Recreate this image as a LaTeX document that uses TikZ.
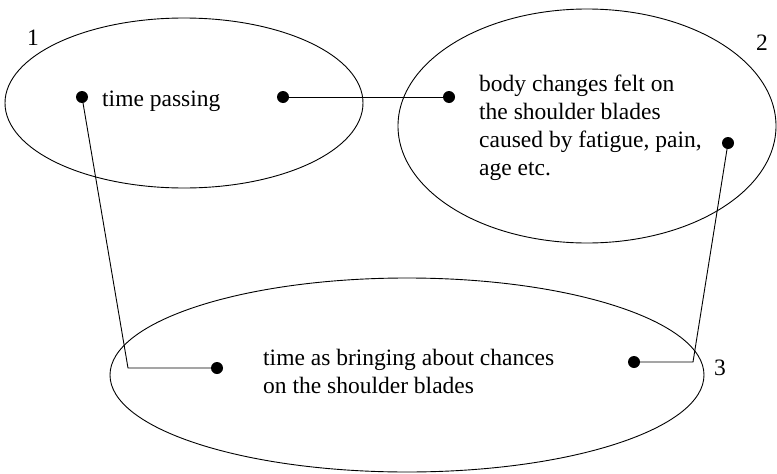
\documentclass[tikz,border=0pt]{standalone}
\usepackage{fontspec}
\setmainfont{Liberation Serif}
\usetikzlibrary{shapes.geometric}
\begin{document}
\begin{tikzpicture}[x=1pt,y=-1pt,
  region/.style={draw, ellipse, line width=0.9pt, inner sep=0pt},
  dot/.style={circle, fill, inner sep=0pt, minimum size=12pt},
  link/.style={line width=0.9pt},
  txt/.style={font=\fontsize{23.5}{28}\selectfont, inner sep=0pt},
]
\useasboundingbox (0,0) rectangle (777,474);

% the three regions
\node[region, minimum width=358pt, minimum height=170pt] (e1) at (184,103) {};
\node[region, minimum width=378pt, minimum height=234pt] (e2) at (587,126) {};
\node[region, minimum width=594pt, minimum height=194pt] (e3) at (407,375) {};

% region numbers
\node[txt, anchor=base] (n1) at (33,45) {1};
\node[txt, anchor=base] (n2) at (762,50) {2};
\node[txt, anchor=base] (n3) at (720,375) {3};

% region texts (multi-line nodes sit on the baseline of their last line)
\node[txt, anchor=base west] (t1) at (102,106) {time passing};
\node[txt, anchor=base west, align=left] (t2) at (479,175)
  {body changes felt on\\the shoulder blades\\caused by fatigue, pain,\\age etc.};
\node[txt, anchor=base west, align=left] (t3) at (263,393)
  {time as bringing about chances\\on the shoulder blades};

% connection points
\node[dot] (p1) at (82,97) {};
\node[dot] (p2) at (283,97) {};
\node[dot] (p3) at (449,97) {};
\node[dot] (p4) at (728,143) {};
\node[dot] (p5) at (217,368) {};
\node[dot] (p6) at (634,362) {};
\coordinate (c1) at (128,368);
\coordinate (c2) at (693,362);

% connectors
\draw[link] (p2.center) -- (p3.center);
\draw[link] (p1.center) -- (c1) -- (p5.center);
\draw[link] (p4.center) -- (c2) -- (p6.center);
\end{tikzpicture}
\end{document}
